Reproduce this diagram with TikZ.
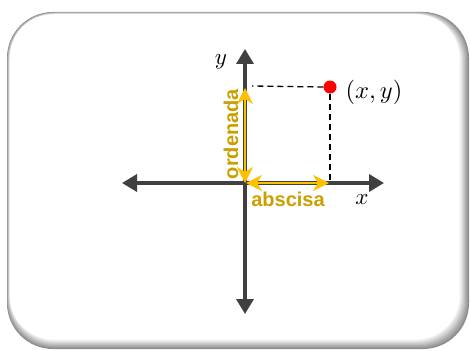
\documentclass[tikz,border=0pt]{standalone}
\usepackage{graphicx}
\usepackage{fontspec}
\newfontfamily\labelfont{Liberation Sans}
\usepackage{tikz}
\usetikzlibrary{arrows.meta}

\definecolor{axisgray}{HTML}{404040}
\definecolor{arrowgold}{HTML}{FFC000}
\definecolor{textgold}{HTML}{C9A000}

\newcommand{\bigmath}[2]{\scalebox{#1}{$#2$}}

\tikzset{
    axis/.style={draw=axisgray, line width=3.5pt, {Triangle[length=15pt, width=17pt]}-{Triangle[length=15pt, width=17pt]}},
    part/.style={draw=arrowgold, line width=2.2pt, {Stealth[length=16pt, width=16pt, inset=5pt]}-{Stealth[length=16pt, width=16pt, inset=5pt]}},
    guide/.style={draw=black, line width=1.3pt, dash pattern=on 6pt off 4pt},
    partlabel/.style={text=textgold, font=\labelfont\bfseries\fontsize{20}{20}\selectfont, inner sep=0pt},
    mathlabel/.style={inner sep=0pt},
}

\begin{document}
\begin{tikzpicture}[x=1pt, y=-1pt]
    \useasboundingbox (0, 0) rectangle (470, 350);

    % panel with soft edge
    \foreach \i in {0,...,9} {
        \pgfmathsetmacro{\shade}{45 - 4.7*\i}
        \fill[black!\shade, rounded corners=46pt]
            (7+0.3*\i, 12+0.25*\i) rectangle (469-0.95*\i, 349-0.95*\i);
    }
    \fill[white, rounded corners=42pt] (10, 14.5) rectangle (459, 339);

    \coordinate (O) at (245, 183);
    \coordinate (xl) at (122, 183);
    \coordinate (xr) at (384, 183);
    \coordinate (yt) at (245, 49);
    \coordinate (yb) at (245, 314);
    \coordinate (oy) at (245, 88);
    \coordinate (ox) at (329, 183);

    \draw[axis] (xl) -- (xr);
    \draw[axis] (yb) -- (yt);

    \node[circle, fill=red, inner sep=0pt, minimum size=13pt] at (330, 87) (P) {};
    \coordinate (Px) at (330, 182);
    \coordinate (Py) at (252, 86);

    \draw[guide] (P.west) -- (Py);
    \draw[guide] (P.south) -- (Px);

    \draw[part] (O) -- (oy);
    \draw[part] ([xshift=1pt]O) -- (ox);

    \node[partlabel, rotate=90] at (231, 134) (ord) {ordenada};
    \node[partlabel] at (288, 199) (abs) {abscisa};

    \node[mathlabel] at (374, 92) (Plab) {\bigmath{2.45}{(x,y)}};
    \node[mathlabel] at (362, 200) (xlab) {\bigmath{2.3}{x}};
    \node[mathlabel] at (221, 62) (ylab) {\bigmath{2.3}{y}};
\end{tikzpicture}
\end{document}
